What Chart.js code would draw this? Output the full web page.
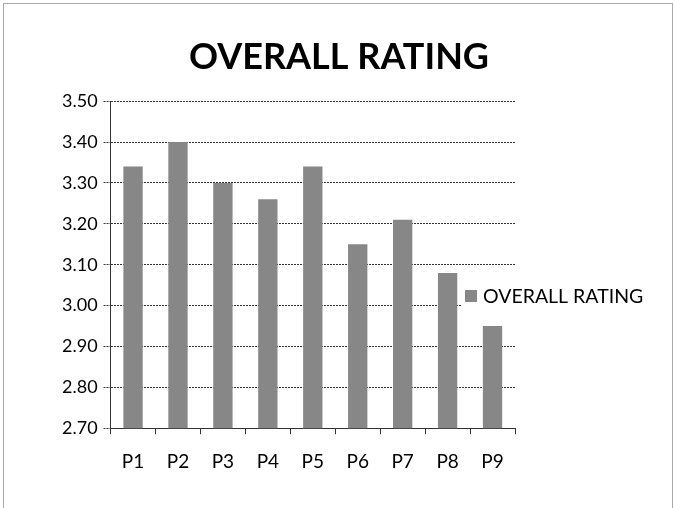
<!DOCTYPE html>
<html>
<head>
<meta charset="utf-8">
<script src="https://cdn.jsdelivr.net/npm/chart.js@4/dist/chart.umd.min.js"></script>
<style>
  html, body { margin: 0; padding: 0; background: #fff; }
  #wrap { width: 675px; height: 508px; position: relative; }
</style>
</head>
<body>
<div id="wrap"><canvas id="myChart"></canvas></div>
<script>
var categories = ["P1", "P2", "P3", "P4", "P5", "P6", "P7", "P8", "P9"]
var ratings = [3.34, 3.40, 3.30, 3.26, 3.34, 3.15, 3.21, 3.08, 2.95]
var seriesName = "OVERALL RATING"
var yTicks = [2.70, 2.80, 2.90, 3.00, 3.10, 3.20, 3.30, 3.40, 3.50]

var fontName = "Lato, 'Open Sans', sans-serif"

// frame around the whole chart + legend drawn over the plot like the original
var frameAndLegend = {
  id: 'frameAndLegend',
  beforeDraw: function(chart) {
    var c = chart.ctx
    c.save()
    c.fillStyle = '#fff'
    c.fillRect(0, 0, chart.width, chart.height)
    c.strokeStyle = '#555'
    c.lineWidth = 1
    c.setLineDash([1, 1])
    c.strokeRect(3.5, 3.5, chart.width - 6, chart.height + 20)
    c.restore()
  },
  afterDraw: function(chart) {
    var c = chart.ctx
    var ds = chart.data.datasets[0]
    c.save()
    c.font = "19.5px " + fontName
    var w = c.measureText(ds.label).width
    var x = 463, y = 296
    c.fillStyle = '#fff'
    c.fillRect(x - 2, y - 12, w + 24, 24)
    c.fillStyle = ds.backgroundColor
    c.fillRect(x + 2, y - 6, 12, 12)
    c.fillStyle = '#000'
    c.textBaseline = 'middle'
    c.fillText(ds.label, x + 20, y + 1)
    c.restore()
  }
}

var ctx = document.getElementById("myChart")
var myChart = new Chart(ctx, {
  type: 'bar',
  data: {
    labels: categories,
    datasets: [
      {
        data: ratings,
        label: seriesName,
        backgroundColor: "#878787",
        borderWidth: 0,
        categoryPercentage: 1,
        barPercentage: 0.43
      }
    ]
  },
  options: {
    responsive: true,
    maintainAspectRatio: false,
    animation: false,
    layout: { padding: { top: 0, left: 56, right: 53, bottom: 19 } },
    plugins: {
      legend: { display: false },
      tooltip: { enabled: false },
      title: {
        display: true,
        text: seriesName,
        color: '#000',
        font: { family: fontName, size: 36, weight: 'bold' },
        padding: { top: 36, bottom: 22 }
      }
    },
    scales: {
      x: {
        offset: true,
        grid: {
          offset: true,
          drawOnChartArea: false,
          drawTicks: true,
          tickLength: 6,
          color: '#333'
        },
        border: { color: '#333', width: 1 },
        ticks: {
          color: '#000',
          padding: 16,
          font: { family: fontName, size: 19 }
        }
      },
      y: {
        min: 2.7,
        max: 3.5,
        afterBuildTicks: function(axis) {
          axis.ticks = yTicks.map(function(v) { return { value: v } })
        },
        grid: {
          color: '#333',
          tickLength: 7,
          tickBorderDash: [2, 1]
        },
        border: { color: '#333', dash: [2, 1] },
        ticks: {
          color: '#000',
          padding: 6,
          font: { family: fontName, size: 18 },
          callback: function(v) { return Number(v).toFixed(2) }
        }
      },
      // empty space on the right where the legend sits
      side: {
        position: 'right',
        display: true,
        grid: { display: false },
        border: { display: false },
        ticks: { display: false },
        afterFit: function(scale) { scale.width = 107 }
      }
    }
  },
  plugins: [frameAndLegend]
})
</script>
</body>
</html>
